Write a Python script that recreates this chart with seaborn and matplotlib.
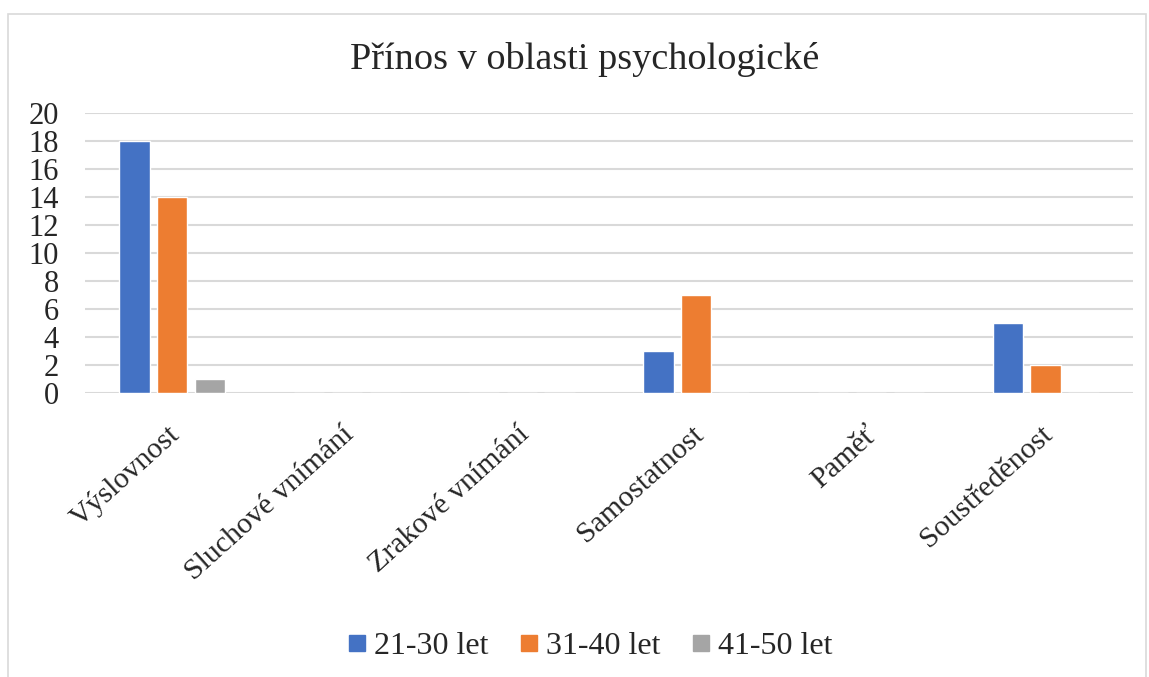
import matplotlib
matplotlib.use("Agg")
import matplotlib.pyplot as plt
import matplotlib.transforms as mtransforms
import seaborn as sns
import pandas as pd
from matplotlib.patches import Rectangle
from matplotlib.lines import Line2D

categories = ["Výslovnost", "Sluchové vnímání", "Zrakové vnímání", "Samostatnost", "Paměť", "Soustředěnost"]
series_names = ["21-30 let", "31-40 let", "41-50 let"]
vals_21_30 = [18, 0, 0, 3, 0, 5]
vals_31_40 = [14, 0, 0, 7, 0, 2]
vals_41_50 = [1, 0, 0, 0, 0, 0]
colors = ["#4472C4", "#ED7D31", "#A5A5A5"]
title = "Přínos v oblasti psychologické"

rows = []
for name, vals in zip(series_names, [vals_21_30, vals_31_40, vals_41_50]):
    for c, v in zip(categories, vals):
        rows.append({"cat": c, "series": name, "value": v})
df = pd.DataFrame(rows)

sns.set_theme(style="white")
plt.rcParams['font.family'] = ['Liberation Serif', 'DejaVu Serif']

fig = plt.figure(figsize=(11.49, 6.77), dpi=100)
ax = fig.add_axes([0.074, 0.4195, 0.912, 0.4135])
sns.barplot(data=df, x="cat", y="value", hue="series", palette=colors,
            order=categories, hue_order=series_names, width=0.65, gap=0.2,
            ax=ax, legend=False, saturation=1)
ax.set_ylim(0, 20)
ax.set_yticks(range(0, 21, 2))
ax.set_xlim(-0.5, len(categories) - 0.5)
ax.yaxis.grid(True, color="#D9D9D9", linewidth=1.5)
ax.set_axisbelow(True)
for s in ax.spines.values():
    s.set_visible(False)
ax.set_xlabel("")
ax.set_ylabel("")
ax.tick_params(axis="y", labelsize=22, pad=19, length=0)
ax.tick_params(axis="x", length=0, pad=20)
ax.set_xticks(range(len(categories)))
ax.set_xticklabels(categories, rotation=42, ha="right", rotation_mode="anchor", fontsize=21.5)
off = mtransforms.ScaledTranslation(-0.05, 0, fig.dpi_scale_trans)
for lab in ax.get_xticklabels():
    lab.set_transform(lab.get_transform() + off)

hs = [Line2D([], [], marker="s", linestyle="", markersize=11.5, color=c) for c in colors]
fig.legend(hs, series_names, loc="center", bbox_to_anchor=(0.512, 0.045), ncol=3,
           frameon=False, fontsize=23, handletextpad=0.15, columnspacing=0.85, handlelength=0.8)

fig.text(0.509, 0.912, title, ha="center", va="center", fontsize=27.5)
fig.patches.append(Rectangle((0.007, -0.01), 0.99, 0.99, transform=fig.transFigure,
                             fill=False, edgecolor="#D9D9D9", linewidth=1.2))
fig.savefig("out.png", dpi=100)
